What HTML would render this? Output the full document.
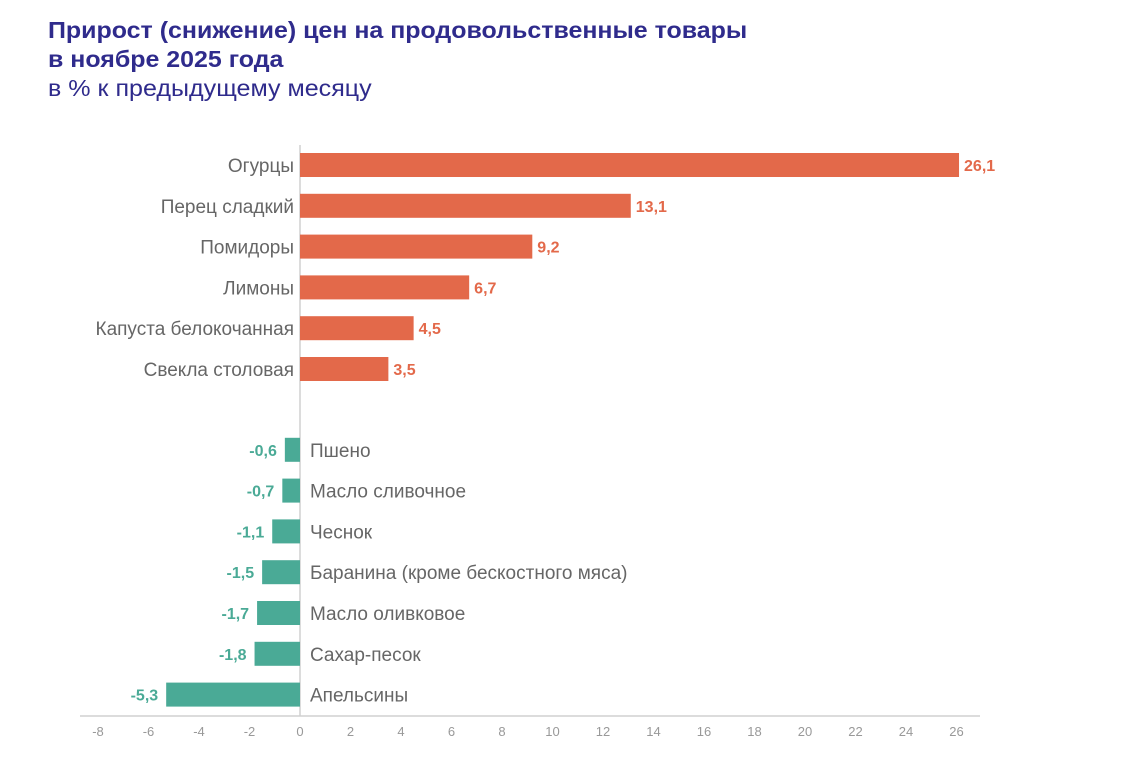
<!DOCTYPE html>
<html><head><meta charset="utf-8"><style>
body{margin:0;background:#fff;width:1122px;height:776px;overflow:hidden;font-family:"Liberation Sans",sans-serif}
.t{position:absolute;left:48px;color:#2f2b8c;transform-origin:0 0;white-space:nowrap}
</style></head><body>
<div class="t" style="top:16px;font-size:23px;font-weight:bold;line-height:29px;transform:scaleX(1.085)">Прирост (снижение) цен на продовольственные товары<br>в ноябре 2025 года</div>
<div class="t" style="top:75px;font-size:23px;transform:scaleX(1.09)">в % к предыдущему месяцу</div>
<svg id="c" width="1122" height="776" style="position:absolute;left:0;top:0"></svg>
<script>
const categories=["Огурцы","Перец сладкий","Помидоры","Лимоны","Капуста белокочанная","Свекла столовая","Пшено","Масло сливочное","Чеснок","Баранина (кроме бескостного мяса)","Масло оливковое","Сахар-песок","Апельсины"];
const values=[26.1,13.1,9.2,6.7,4.5,3.5,-0.6,-0.7,-1.1,-1.5,-1.7,-1.8,-5.3];
const ticks=[-8,-6,-4,-2,0,2,4,6,8,10,12,14,16,18,20,22,24,26];
const NS="http://www.w3.org/2000/svg",svg=document.getElementById('c');
const x=v=>300+v*25.25;
const y=i=>165+i*40.8+(i>=6?40:0);
function el(t,a,txt){const e=document.createElementNS(NS,t);for(const k in a)e.setAttribute(k,a[k]);if(txt!==undefined)e.textContent=txt;svg.appendChild(e);return e;}
const ax=el('line',{x1:80,x2:980,y1:716,y2:716,stroke:'#d0d0d0','stroke-width':1.5});


const zl=el('line',{x1:x(0),x2:x(0),y1:145,y2:716,stroke:'#d0d0d0','stroke-width':1.5});


ticks.forEach(t=>{const e=el('text',{x:x(t),y:736,'text-anchor':'middle','font-size':13,fill:'#999'},String(t));

});
categories.forEach((c,i)=>{const v=values[i],pos=v>=0,cy=y(i);
const col=pos?'#e3694a':'#4aaa96';
const r=el('rect',{x:Math.min(x(0),x(v)),y:cy-12,width:Math.abs(x(v)-x(0)),height:24,fill:col});


const lab=el('text',{x:pos?x(0)-6:x(0)+10,y:cy+7,'text-anchor':pos?'end':'start','font-size':19,fill:'#666'},c);


const vl=el('text',{x:pos?x(v)+5:x(v)-8,y:cy+6,'text-anchor':pos?'start':'end','font-size':16,'font-weight':'bold',fill:col},v.toFixed(1).replace('.',','));

});
</script>
</body></html>
